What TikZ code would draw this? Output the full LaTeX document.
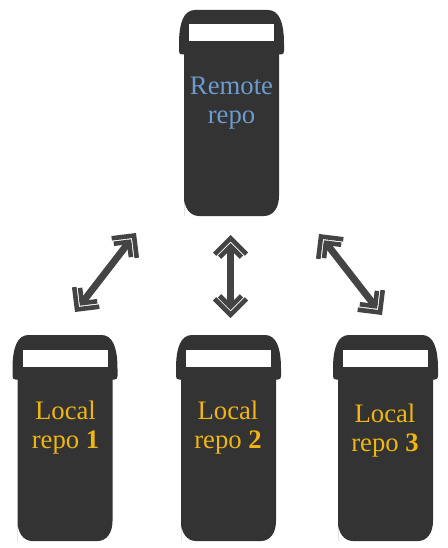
\documentclass[tikz,border=0pt]{standalone}
\usepackage{fontspec}
\setmainfont{Liberation Serif}
\definecolor{body}{HTML}{333333}
\definecolor{link}{HTML}{444444}
\definecolor{bluetext}{HTML}{6C9BCF}
\definecolor{goldtext}{HTML}{F0B513}
\tikzset{
  x=1pt,y=-1pt,
  repo/.style={fill=body,draw=none},
  slot/.style={fill=white,draw=none},
  label/.style={align=center,inner sep=0pt,font=\fontsize{26.7}{29}\selectfont},
  shaft/.style={draw=link,line width=7pt,shorten <=11pt,shorten >=11pt},
  chevron/.style={draw=link,line width=4.6pt,miter limit=10,line join=miter},
  pics/chevrons/.style={code={
    \draw[chevron] (-19.15,15.9) -- (-3.25,0) -- (-19.15,-15.9);
    \draw[chevron] (-22.15,10.9) -- (-11.25,0) -- (-22.15,-10.9);
  }},
  pics/repobox/.style={code={
    \fill[repo] (5,206) -- (5,44.5) -- (3,44.5) .. controls (1,44.5) and (0,43.5) .. (0,41)
      -- (0,34) .. controls (0,12) and (5,0) .. (16,0) -- (89,0)
      .. controls (100,0) and (105,12) .. (105,34) -- (105,41)
      .. controls (105,43.5) and (104,44.5) .. (102,44.5) -- (100,44.5) -- (100,186)
      .. controls (100,198) and (94,206) .. (85,206) -- (20,206)
      .. controls (11,206) and (5,198) .. (5,186) -- cycle;
    \fill[slot] (10,14.5) rectangle (95,31.5);
  }}
}
\begin{document}
\begin{tikzpicture}
\useasboundingbox (0,0) rectangle (447,548);
\pic at (179,10) {repobox};
\pic at (12.5,335) {repobox};
\pic at (176,335) {repobox};
\pic at (333,335) {repobox};
\node[label,text=bluetext] (remote) at (231.5,103) {Remote\\repo};
\node[label,text=goldtext] (local1) at (65.5,428) {Local\\repo \textbf{1}};
\node[label,text=goldtext] (local2) at (228,428) {Local\\repo \textbf{2}};
\node[label,text=goldtext] (local3) at (385,431) {Local\\repo \textbf{3}};
\coordinate (a1s) at (75,312);
\coordinate (a1e) at (136,233);
\coordinate (a2s) at (230.5,235);
\coordinate (a2e) at (230.5,318);
\coordinate (a3s) at (319,234);
\coordinate (a3e) at (382,315);
\draw[shaft] (a1s) -- (a1e);
\draw[shaft] (a2s) -- (a2e);
\draw[shaft] (a3s) -- (a3e);
\pic[rotate=52] at (a1e) {chevrons};
\pic[rotate=232] at (a1s) {chevrons};
\pic[rotate=90] at (a2s) {chevrons};
\pic[rotate=-90] at (a2e) {chevrons};
\pic[rotate=128] at (a3s) {chevrons};
\pic[rotate=-52] at (a3e) {chevrons};
\end{tikzpicture}
\end{document}
